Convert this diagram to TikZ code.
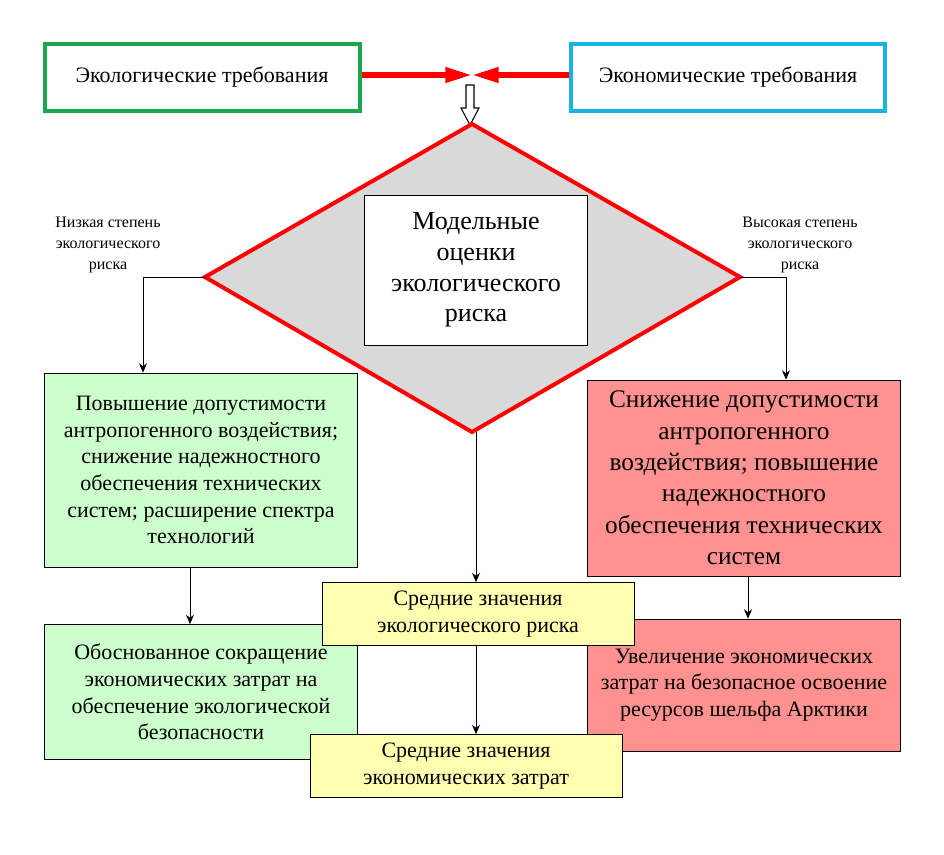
\documentclass[tikz,border=0pt]{standalone}
\usepackage{fontspec}
\setmainfont{Liberation Serif}
\usetikzlibrary{arrows.meta}
\definecolor{boxGreen}{rgb}{0.80,1.00,0.80}
\definecolor{boxRed}{rgb}{1.00,0.57,0.57}
\definecolor{boxYellow}{rgb}{1.00,1.00,0.70}
\definecolor{lineGreen}{rgb}{0.10,0.65,0.30}
\definecolor{lineBlue}{rgb}{0.10,0.70,0.90}
\tikzset{
  headbox/.style={draw,line width=3pt,fill=white,align=center,font=\fontsize{16.5}{19}\selectfont},
  stepbox/.style={draw,line width=0.6pt,align=center,inner sep=2pt,font=\fontsize{16.5}{20}\selectfont},
  flow/.style={-{Stealth[length=7pt,width=6pt]},line width=0.6pt},
  note/.style={align=center,font=\fontsize{12}{15.5}\selectfont}
}
\begin{document}
\begin{tikzpicture}[x=0.75pt,y=-0.75pt]
\path[use as bounding box,fill=white] (0,0) rectangle (944,854);

% top requirements
\node[headbox,draw=lineGreen,minimum width=315*0.75pt,minimum height=67*0.75pt] (eco) at (202,77) {Экологические требования};
\node[headbox,draw=lineBlue,minimum width=314*0.75pt,minimum height=67*0.75pt] (econ) at (728,77) {Экономические требования};
\coordinate (meet) at (472,75);
\draw[red,line width=4pt,-{Triangle[length=20pt,width=11pt]}] (eco.east|-meet) -- (meet);
\draw[red,line width=4pt,-{Triangle[length=20pt,width=11pt]}] (econ.west|-meet) -- (meet);
\draw[line width=0.8pt,fill=white] (466,85) -- (474,85) -- (474,108) -- (479,108) -- (470,125) -- (461,108) -- (466,108) -- cycle;

% model estimate
\draw[red,line width=3pt,fill=black!15] (472,124) coordinate (dtop) -- (740,277) coordinate (dright)
  -- (472,432) coordinate (dbottom) -- (205,277) coordinate (dleft) -- cycle;
\node[draw,fill=white,line width=0.6pt,minimum width=223*0.75pt,minimum height=150*0.75pt,align=center,
  font=\fontsize{19.5}{23}\selectfont] (model) at (476,270) {Модельные\\оценки\\экологического\\риска};

\node[note] (low) at (108,245) {Низкая степень\\экологического\\риска};
\node[note] (high) at (800,245) {Высокая степень\\экологического\\риска};

% outcomes
\node[stepbox,fill=boxGreen,minimum width=313*0.75pt,minimum height=194*0.75pt] (lowrisk) at (201,470)
  {Повышение допустимости\\антропогенного воздействия;\\снижение надежностного\\обеспечения технических\\систем; расширение спектра\\технологий};
\node[stepbox,fill=boxRed,minimum width=313*0.75pt,minimum height=196*0.75pt,font=\fontsize{19}{23.5}\selectfont] (highrisk) at (744,478)
  {Снижение допустимости\\антропогенного\\воздействия; повышение\\надежностного\\обеспечения технических\\систем};
\node[stepbox,fill=boxGreen,minimum width=313*0.75pt,minimum height=135*0.75pt] (lowcost) at (201,692)
  {Обоснованное сокращение\\экономических затрат на\\обеспечение экологической\\безопасности};
\node[stepbox,fill=boxRed,minimum width=313*0.75pt,minimum height=132*0.75pt] (highcost) at (744,685)
  {Увеличение экономических\\затрат на безопасное освоение\\ресурсов шельфа Арктики};
\node[stepbox,fill=boxYellow,minimum width=312*0.75pt,minimum height=63*0.75pt] (midrisk) at (478,614)
  {Средние значения\\экологического риска};
\node[stepbox,fill=boxYellow,minimum width=312*0.75pt,minimum height=63*0.75pt] (midcost) at (466,766)
  {Средние значения\\экономических затрат};

% connectors
\draw[flow] (dleft) -| (lowrisk.north-|143,0);
\draw[flow] (dright) -| (highrisk.north-|786,0);
\draw[flow] (dbottom-|476,0) -- (midrisk.north-|476,0);
\draw[flow] (lowrisk.south-|190,0) -- (lowcost.north-|190,0);
\draw[flow] (highrisk.south-|748,0) -- (highcost.north-|748,0);
\draw[flow] (midrisk.south-|476,0) -- (midcost.north-|476,0);
\end{tikzpicture}
\end{document}
